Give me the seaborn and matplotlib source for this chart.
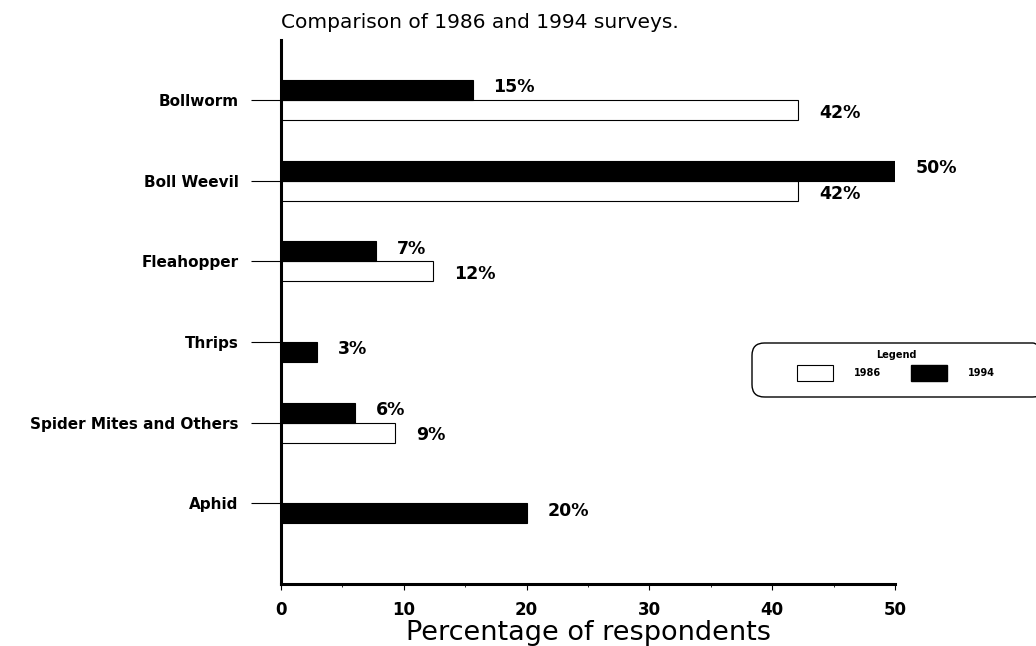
import matplotlib
matplotlib.use("Agg")
import matplotlib.pyplot as plt
from matplotlib.patches import Patch, FancyBboxPatch
import pandas as pd
import seaborn as sns

# ---- data ----
categories = ["Bollworm", "Boll Weevil", "Fleahopper", "Thrips",
              "Spider Mites and Others", "Aphid"]
pct_1994 = [15.6, 50.0, 7.7, 2.9, 6.0, 20.0]
pct_1986 = [42.1, 42.1, 12.4, None, 9.3, None]
labels_1994 = ["15%", "50%", "7%", "3%", "6%", "20%"]
labels_1986 = ["42%", "42%", "12%", "", "9%", ""]
years = ["1986", "1994"]
x_ticks = [0, 10, 20, 30, 40, 50]
title = "Comparison of 1986 and 1994 surveys."
x_title = "Percentage of respondents"

# ---- build long table (slot offsets keep the two years side by side) ----
OFF = 0.124
rows = []
for i, cat in enumerate(categories):
    has86 = pct_1986[i] is not None
    rows.append((i - OFF if has86 else i + OFF, pct_1994[i], "1994", labels_1994[i]))
    if has86:
        rows.append((i + OFF, pct_1986[i], "1986", labels_1986[i]))
df = pd.DataFrame(rows, columns=["pos", "value", "year", "label"])

sns.set_style("ticks")
plt.rcParams["font.family"] = ["DejaVu Sans"]
for k in ["text.color", "axes.labelcolor", "xtick.color", "ytick.color", "axes.edgecolor"]:
    plt.rcParams[k] = "black"

W, H = 1036, 646
fig = plt.figure(figsize=(W / 100, H / 100), dpi=100)
ax = fig.add_axes([281 / W, 1 - 584 / H, (895 - 281) / W, (584 - 40) / H])

sns.barplot(data=df, x="value", y="pos", hue="year", hue_order=years,
            palette={"1986": "white", "1994": "black"}, orient="h",
            native_scale=True, dodge=False, width=1.0, saturation=1,
            edgecolor="black", linewidth=0.8, legend=False,
            errorbar=None, ax=ax)

ax.set_ylim(6.0, -0.745)
ax.set_xlim(0, 50)
ax.set_yticks(range(len(categories)))
ax.set_yticklabels(categories, fontsize=11, fontweight="bold")
ax.set_xticks(x_ticks)
ax.set_xticklabels([str(t) for t in x_ticks], fontsize=12, fontweight="bold")
ax.set_xticks(range(5, 50, 10), minor=True)
ax.tick_params(axis="y", length=21.6, width=0.8, pad=9, direction="out", left=True)
ax.tick_params(axis="x", which="major", length=4, width=0.8, pad=8, direction="out", bottom=True)
ax.tick_params(axis="x", which="minor", length=2.5, width=0.6, direction="out", bottom=True)
ax.set_ylabel("")
ax.set_xlabel(x_title, fontsize=19.5, labelpad=1)
for s in ["top", "right"]:
    ax.spines[s].set_visible(False)
for s in ["left", "bottom"]:
    ax.spines[s].set_linewidth(2.2)
    ax.spines[s].set_color("black")

# value labels
for _, r in df.iterrows():
    if not r["label"]:
        continue
    dy = 2 if r["year"] == "1994" else -2
    ax.annotate(r["label"], xy=(r["value"], r["pos"]), xytext=(15, dy),
                textcoords="offset points", ha="left", va="center",
                fontsize=12.5, fontweight="bold", annotation_clip=False)

fig.text(281 / W, 1 - 22 / H, title, fontsize=14.5, ha="left", va="center")

# legend
handles = [Patch(facecolor="white", edgecolor="black", linewidth=0.8),
           Patch(facecolor="black", edgecolor="black")]
fig.legend(handles, years, title="Legend", ncol=2, loc="upper center",
           bbox_to_anchor=(896 / W, 1 - 345 / H), frameon=False,
           prop={"size": 7, "weight": "bold"},
           title_fontproperties={"size": 7, "weight": "bold"},
           handlelength=3.7, handleheight=2.2, handletextpad=2.2,
           columnspacing=3.0, borderpad=0)
frame = FancyBboxPatch((752 / W, 1 - 397 / H), (1045 - 752) / W, 54 / H,
                       boxstyle="round,pad=0,rounding_size=0.012",
                       mutation_aspect=W / H, transform=fig.transFigure,
                       fill=False, edgecolor="black", linewidth=1)
fig.add_artist(frame)

fig.savefig("out.png", dpi=100)
